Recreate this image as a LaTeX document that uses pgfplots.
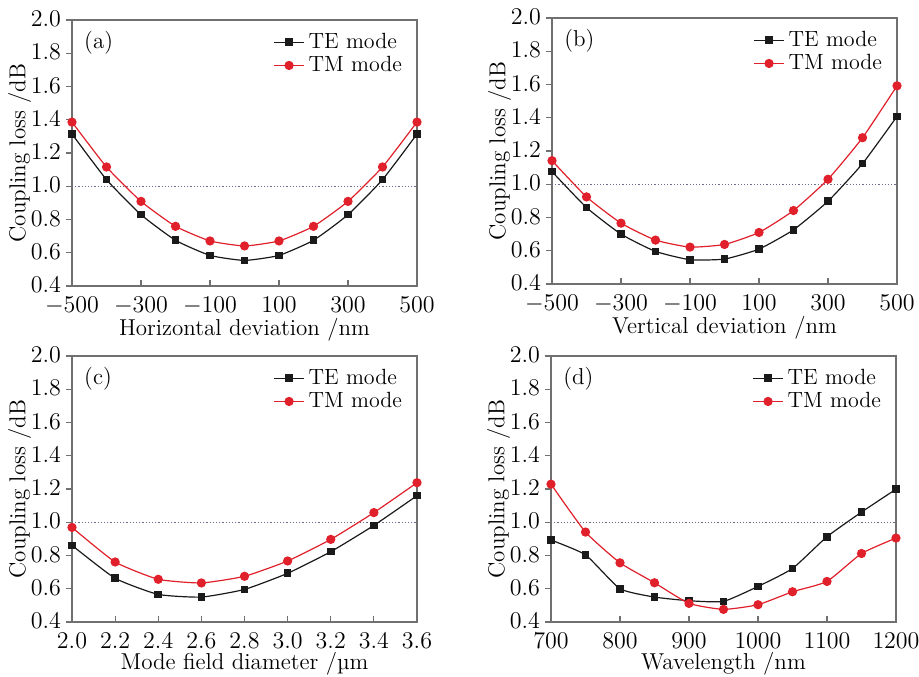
\documentclass[border=0pt]{standalone}
\usepackage{pgfplots}
\pgfplotsset{compat=1.18}
\definecolor{teblack}{HTML}{1A1A1A}
\definecolor{tmred}{HTML}{E0202A}
\definecolor{framegray}{HTML}{707070}
\definecolor{refline}{HTML}{6A6A8A}

\tikzset{plabel/.style={anchor=north west, font=\fontsize{11.5}{12}\selectfont}}

\pgfplotsset{
  panel/.style={
    scale only axis,
    width=172.5pt, height=133pt,
    anchor=south west,
    ymin=0.4, ymax=2.0,
    ytick={0.4,0.6,...,2.0},
    yticklabel style={/pgf/number format/fixed,/pgf/number format/fixed zerofill,/pgf/number format/precision=1, xshift=1pt, yshift=0.5pt},
    xticklabel style={yshift=-2pt},
    ylabel={Coupling loss /dB},
    ylabel style={yshift=-7pt},
    xlabel style={yshift=5pt},
    axis line style={framegray, line width=0.7pt},
    tick style={framegray, line width=0.6pt},
    ytick pos=left, xtick pos=bottom,
    xtick align=inside, ytick align=outside,
    major tick length=3pt,
    tick label style={font=\fontsize{11.5}{12}\selectfont},
    label style={font=\fontsize{11.5}{12}\selectfont},
    legend style={draw=none, fill=none, at={(0.975,0.975)}, anchor=north east,
      font=\fontsize{11}{11}\selectfont, row sep=-1.5pt, inner sep=1pt},
    legend cell align=left,
    legend image code/.code={
      \draw[mark repeat=2,mark phase=2,#1] plot coordinates {(0pt,0pt) (7.5pt,0pt) (15pt,0pt)};},
    clip=false,
  },
  te/.style={teblack, line width=0.6pt, smooth, tension=0.3, mark=square*, mark size=1.6pt, mark options={solid,fill=teblack}},
  tm/.style={tmred, line width=0.6pt, smooth, tension=0.3, mark=*, mark size=2pt, mark options={solid,fill=tmred}},
}

\begin{document}
\begin{tikzpicture}
\useasboundingbox (0,0) rectangle (459.5pt,338pt);

% (a)
\begin{axis}[panel, at={(36pt,195pt)},
  xmin=-500, xmax=500, xtick={-500,-300,...,500},
  xlabel={Horizontal deviation /nm}]
\addplot[refline, densely dotted, line width=0.6pt, forget plot] coordinates {(-500,1) (500,1)};
\addplot[te] coordinates {(-500,1.314) (-400,1.040) (-300,0.829) (-200,0.675) (-100,0.584) (0,0.554) (100,0.584) (200,0.675) (300,0.829) (400,1.040) (500,1.314)};
\addplot[tm] coordinates {(-500,1.386) (-400,1.116) (-300,0.909) (-200,0.759) (-100,0.671) (0,0.641) (100,0.671) (200,0.759) (300,0.909) (400,1.116) (500,1.386)};
\legend{TE mode, TM mode}
\node[plabel] at (rel axis cs:0.015,0.985) {(a)};
\end{axis}

% (b)
\begin{axis}[panel, at={(276pt,196pt)},
  xmin=-500, xmax=500, xtick={-500,-300,...,500},
  xlabel={Vertical deviation /nm}]
\addplot[refline, densely dotted, line width=0.6pt, forget plot] coordinates {(-500,1) (500,1)};
\addplot[te] coordinates {(-500,1.076) (-400,0.860) (-300,0.700) (-200,0.596) (-100,0.546) (0,0.550) (100,0.610) (200,0.726) (300,0.898) (400,1.124) (500,1.408)};
\addplot[tm] coordinates {(-500,1.142) (-400,0.924) (-300,0.766) (-200,0.664) (-100,0.622) (0,0.638) (100,0.710) (200,0.842) (300,1.030) (400,1.280) (500,1.592)};
\legend{TE mode, TM mode}
\node[plabel] at (rel axis cs:0.015,0.985) {(b)};
\end{axis}

% (c)
\begin{axis}[panel, at={(36pt,27pt)},
  xmin=2.0, xmax=3.6, xtick={2.0,2.2,...,3.6},
  xticklabel style={/pgf/number format/fixed,/pgf/number format/fixed zerofill,/pgf/number format/precision=1},
  xlabel={Mode field diameter /\textmu m}]
\addplot[refline, densely dotted, line width=0.6pt, forget plot] coordinates {(2.0,1) (3.6,1)};
\addplot[te] coordinates {(2.0,0.861) (2.2,0.663) (2.4,0.566) (2.6,0.550) (2.8,0.596) (3.0,0.693) (3.2,0.823) (3.4,0.981) (3.6,1.160)};
\addplot[tm] coordinates {(2.0,0.969) (2.2,0.761) (2.4,0.657) (2.6,0.635) (2.8,0.675) (3.0,0.767) (3.2,0.897) (3.4,1.058) (3.6,1.238)};
\legend{TE mode, TM mode}
\node[plabel] at (rel axis cs:0.015,0.985) {(c)};
\end{axis}

% (d)
\begin{axis}[panel, at={(275.5pt,27pt)},
  xmin=700, xmax=1200, xtick={700,800,...,1200},
  xticklabel style={/pgf/number format/1000 sep={}},
  xlabel={Wavelength /nm}]
\addplot[refline, densely dotted, line width=0.6pt, forget plot] coordinates {(700,1) (1200,1)};
\addplot[te] coordinates {(700,0.893) (750,0.804) (800,0.600) (850,0.550) (900,0.528) (950,0.524) (1000,0.614) (1050,0.722) (1100,0.913) (1150,1.061) (1200,1.199)};
\addplot[tm] coordinates {(700,1.229) (750,0.941) (800,0.756) (850,0.636) (900,0.512) (950,0.476) (1000,0.504) (1050,0.582) (1100,0.644) (1150,0.812) (1200,0.905)};
\legend{TE mode, TM mode}
\node[plabel] at (rel axis cs:0.015,0.985) {(d)};
\end{axis}
\end{tikzpicture}
\end{document}
